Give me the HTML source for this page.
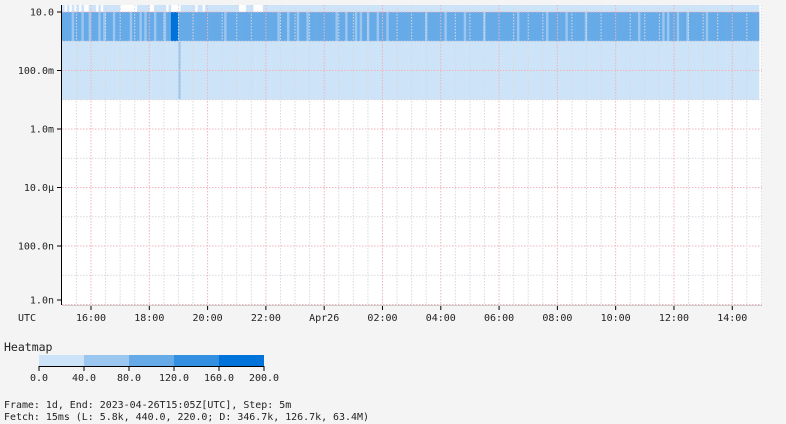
<!DOCTYPE html>
<html><head><meta charset="utf-8"><style>
html,body{margin:0;padding:0;background:#f4f4f4;}
svg{display:block;font-family:"DejaVu Sans Mono","Liberation Mono",monospace;}
</style></head><body>
<svg id="chart" width="786" height="424" xmlns="http://www.w3.org/2000/svg">
<rect x="62" y="5" width="700" height="300" fill="#fff"/>
<g id="cells"></g>
<g id="grid"></g>
<g id="axes"></g>
<text x="4" y="351" font-size="11.5" fill="#222">Heatmap</text>
<g id="legend"></g>
<text x="4" y="408" font-size="9.95" fill="#222">Frame: 1d, End: 2023-04-26T15:05Z[UTC], Step: 5m</text>
<text x="4" y="420" font-size="9.95" fill="#222">Fetch: 15ms (L: 5.8k, 440.0, 220.0; D: 346.7k, 126.7k, 63.4M)</text>
</svg>
<script>
// data
const nCols = 288; // 5m steps over 1 day
const bucketLow = [-2, 0, 1];      // log10 bucket bottoms
const bucketHigh = [0, 1, 1.24];   // log10 bucket tops
const baseVals = [20, 100, 20];    // default counts per bucket
const midLightCols = [4,8,11,15,17,21,28,32,34,38,42,67,89,93,97,101,113,117,121,123,126,130,134,150,158,166,174,188,200,208,216,238,248,250,254,258,266];
const midDarkCols = [45,46,47];
const lowMedCols = [48];
const topEmptyCols = [1,3,5,7,9,10,14,16,24,25,26,27,28,29,30,36,37,43,45,46,47,48,55,58,73,74,75,79,80,81,82];
const yTickExp = [1,-1,-3,-5,-7,-9];
const yTickLabels = ["10.0","100.0m","1.0m","10.0μ","100.0n","1.0n"];
const xTickHours = [1,3,5,7,9,11,13,15,17,19,21,23]; // hours after 15:00 Apr25
const xTickLabels = ["16:00","18:00","20:00","22:00","Apr26","02:00","04:00","06:00","08:00","10:00","12:00","14:00"];
const legendVals = [0,40,80,120,160,200];
const legendLabels = ["0.0","40.0","80.0","120.0","160.0","200.0"];
const colors = ["#cde3f7","#9ac6ef","#66aae8","#3390e0","#0073da"];

const NS="http://www.w3.org/2000/svg";
const X0=62, X1=762;
function xMin(m){return 91+(m-60)*0.4858;}          // minutes after 15:00
function xCol(i){return 62+i*(759-62)/nCols;}
function yExp(e){return 12+(1-e)*29.25;}
function colorFor(v){return colors[Math.min(4,Math.floor(v/40))];}
function mk(tag,attrs,parent){const e=document.createElementNS(NS,tag);for(const k in attrs)e.setAttribute(k,attrs[k]);parent.appendChild(e);return e;}

const cells=document.getElementById('cells');
for(let i=0;i<nCols;i++){
  for(let b=0;b<3;b++){
    let v=baseVals[b];
    if(b===1&&midLightCols.includes(i))v=60;
    if(b===1&&midDarkCols.includes(i))v=180;
    if(b===0&&lowMedCols.includes(i))v=60;
    if(b===2&&topEmptyCols.includes(i))v=0;
    if(v<=0)continue;
    const x=xCol(i), w=xCol(i+1)-x;
    const y=yExp(bucketHigh[b]), h=yExp(bucketLow[b])-y;
    const r=mk('rect',{x:x,y:y,width:w+0.3,height:h,fill:colorFor(v)},cells);
    
    
  }
}
const grid=document.getElementById('grid');
for(let e=1;e>=-9;e--){
  const y=yExp(e);
  const l=mk('line',{x1:X0,x2:X1,y1:y,y2:y,stroke:(e%2!==0)?'#f0b4bc':'#d8d8e0','stroke-width':1,'stroke-dasharray':'1.5,1.5'},grid);
  
  
}
for(let m=30;m<1445;m+=30){
  const x=xMin(m);
  if(x<X0||x>X1)continue;
  const isMajor=(m%120===60);
  const l=mk('line',{x1:x,x2:x,y1:5,y2:305,stroke:isMajor?'#f0b4bc':'#d8d8e0','stroke-width':1,'stroke-dasharray':'1.5,1.5'},grid);
  
  
}
const axes=document.getElementById('axes');
const ax=mk('line',{x1:61.5,x2:61.5,y1:5,y2:305,stroke:'#000','stroke-width':1},axes);


const bx=mk('line',{x1:62,x2:762,y1:305.5,y2:305.5,stroke:'#ccc','stroke-width':1},axes);


yTickExp.forEach((e,i)=>{
  const y=(i===5)?300:yExp(e);
  const t=mk('line',{x1:57,x2:61,y1:y,y2:y,stroke:'#000'},axes);
  
  
  const tx=mk('text',{x:54,y:y+3.5,'font-size':10,'text-anchor':'end',fill:'#222'},axes);
  tx.textContent=yTickLabels[i];
  
  
});
const utc=mk('text',{x:18,y:321,'font-size':10,fill:'#222'},axes);
utc.textContent='UTC';


xTickHours.forEach((h,i)=>{
  const x=xMin(h*60);
  const t=mk('line',{x1:x,x2:x,y1:306,y2:310,stroke:'#000'},axes);
  
  
  const tx=mk('text',{x:x,y:321,'font-size':10,'text-anchor':'middle',fill:'#222'},axes);
  tx.textContent=xTickLabels[i];
  
  
});
const leg=document.getElementById('legend');
function lx(v){return 39+v*(264-39)/200;}
for(let i=0;i<5;i++){
  const r=mk('rect',{x:lx(legendVals[i]),y:355,width:lx(legendVals[i+1])-lx(legendVals[i]),height:11,fill:colors[i]},leg);
  
  
}
const la=mk('line',{x1:39,x2:264,y1:366.5,y2:366.5,stroke:'#000'},leg);


legendVals.forEach((v,i)=>{
  const x=lx(v);
  const t=mk('line',{x1:x,x2:x,y1:366,y2:371,stroke:'#000'},leg);
  
  
  const tx=mk('text',{x:x,y:381,'font-size':10,'text-anchor':'middle',fill:'#222'},leg);
  tx.textContent=legendLabels[i];
  
  
});
</script>
</body></html>
